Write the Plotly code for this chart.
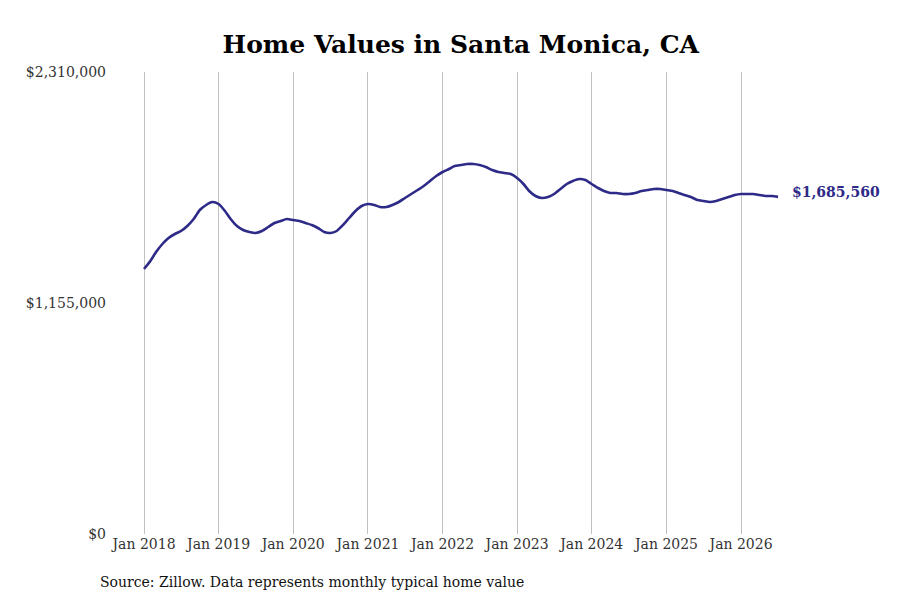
import plotly.graph_objects as go
import pandas as pd

# monthly typical home value, Jan 2018 .. Jul 2026
months = pd.date_range("2018-01-01", "2026-07-01", freq="MS")
values = [
    1325000, 1365000, 1410000, 1450000, 1480000, 1500000, 1515000, 1540000, 1575000, 1620000, 1645000, 1660000,
    1650000, 1615000, 1575000, 1540000, 1520000, 1510000, 1505000, 1515000, 1535000, 1555000, 1565000, 1575000,
    1570000, 1565000, 1555000, 1545000, 1530000, 1510000, 1505000, 1515000, 1545000, 1580000, 1615000, 1640000,
    1650000, 1645000, 1635000, 1635000, 1645000, 1660000, 1680000, 1700000, 1720000, 1740000, 1765000, 1790000,
    1810000, 1825000, 1840000, 1845000, 1850000, 1850000, 1845000, 1835000, 1820000, 1810000, 1805000, 1800000,
    1780000, 1750000, 1715000, 1690000, 1680000, 1685000, 1700000, 1725000, 1750000, 1765000, 1775000, 1770000,
    1750000, 1730000, 1715000, 1705000, 1705000, 1700000, 1700000, 1705000, 1715000, 1720000, 1725000, 1725000,
    1720000, 1715000, 1705000, 1695000, 1685000, 1670000, 1665000, 1660000, 1665000, 1675000, 1685000, 1695000,
    1700000, 1700000, 1700000, 1695000, 1690000, 1690000, 1685560,
]
y_ticks = [0, 1155000, 2310000]
y_labels = ["$0", "$1,155,000", "$2,310,000"]
x_ticks = pd.date_range("2018-01-01", "2026-01-01", freq="YS")
x_labels = ["Jan {}".format(d.year) for d in x_ticks]

line_color = "#2e2a87"
serif = "DejaVu Serif"

fig = go.Figure()
fig.add_trace(go.Scatter(
    x=months, y=values, mode="lines",
    line=dict(color=line_color, width=2.6, shape="spline", smoothing=0.6),
    showlegend=False, hoverinfo="skip",
))

# end value label
fig.add_annotation(
    x=months[-1], y=values[-1], text="<b>${:,}</b>".format(values[-1]),
    showarrow=False, xanchor="left", xshift=12, yshift=5,
    font=dict(family=serif, size=14, color=line_color),
)

fig.add_annotation(
    xref="paper", yref="paper", x=-0.026, y=-0.104, xanchor="left", yanchor="middle",
    text="Source: Zillow. Data represents monthly typical home value",
    showarrow=False, font=dict(family=serif, size=14, color="#111111"),
)

fig.update_layout(
    width=900, height=600,
    margin=dict(l=115, r=115, t=72, b=66),
    paper_bgcolor="white", plot_bgcolor="white",
    title=dict(
        text="<b>Home Values in Santa Monica, CA</b>",
        x=0.512, xanchor="center", y=0.927, yanchor="middle",
        font=dict(family=serif, size=25, color="#000000"),
    ),
    font=dict(family=serif, size=14, color="#333333"),
    xaxis=dict(
        range=["2017-08-12", "2026-08-04"],
        tickvals=x_ticks, ticktext=x_labels,
        showgrid=True, gridcolor="#c0c0c0", gridwidth=1,
        zeroline=False, showline=False, ticks="",
        tickfont=dict(family=serif, size=14, color="#333333"),
    ),
    yaxis=dict(
        range=[0, 2310000],
        tickvals=y_ticks, ticktext=y_labels,
        showgrid=False, zeroline=False, showline=False, ticks="",
        ticklabelstandoff=8,
        tickfont=dict(family=serif, size=14, color="#333333"),
    ),
)

# page body has a default 8px margin; drop it so the figure fills the window
fig.write_html("out.html", config={"displayModeBar": False},
               post_script="document.body.style.margin='0';")
